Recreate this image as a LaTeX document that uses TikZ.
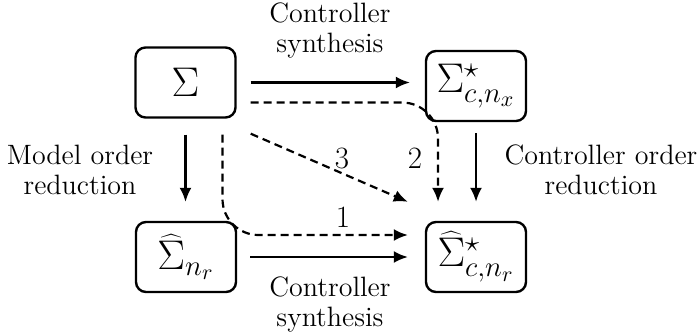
\documentclass[tikz,border=0pt]{standalone}
\usetikzlibrary{arrows.meta}
\begin{document}
\begin{tikzpicture}[x=0.5pt,y=-0.5pt,
  box/.style={draw, line width=1.2pt, rounded corners=5pt, minimum width=50pt, minimum height=35pt, inner sep=0pt, font=\fontsize{21}{24}\selectfont},
  arr/.style={line width=1.1pt, -{Latex[length=7pt,width=6pt]}},
  dsh/.style={arr, dash pattern=on 4pt off 2.5pt},
  lbl/.style={font=\fontsize{14}{15}\selectfont, align=center},
  num/.style={font=\fontsize{15.5}{17}\selectfont}]
\useasboundingbox (0,0) rectangle (700,332);
\node[box] (S) at (185.5,82.5) {$\Sigma$};
\node[box] (Sc) at (476,86) {$\Sigma^\star_{c,n_x}$};
\node[box] (Sr) at (186,257) {$\widehat{\Sigma}_{n_r}$};
\node[box] (Scr) at (476,257) {$\widehat{\Sigma}^\star_{c,n_r}$};
% solid arrows
\draw[arr, shorten <=7pt, shorten >=7.5pt] (S.east) -- (S.east -| Sc.west);
\draw[arr, shorten <=6.5pt, shorten >=8.5pt] (Sr.east) -- (Scr.west);
\draw[arr, shorten <=8pt, shorten >=9.5pt] (S.south) -- (S.south |- Sr.north);
\draw[arr, shorten <=5.5pt, shorten >=9.5pt] (Sc.south) -- (Scr.north);
% dashed arrows
\coordinate (d2s) at ([shift={(7pt,-10pt)}]S.east);
\coordinate (d2e) at ([shift={(-19pt,9.5pt)}]Scr.north);
\draw[dsh, rounded corners=18pt] (d2s) -| (d2e);
\coordinate (d1s) at ([shift={(18.5pt,-8pt)}]S.south);
\coordinate (d1e) at ([shift={(-8.5pt,11pt)}]Scr.west);
\draw[dsh, rounded corners=18pt] (d1s) |- (d1e);
\coordinate (d3s) at ([shift={(7pt,-7.5pt)}]S.south east);
\coordinate (d3e) at ([shift={(-8.5pt,9.5pt)}]Scr.north west);
\draw[dsh] (d3s) -- (d3e);
% labels
\node[num] (n3) at (342,158) {3};
\node[num] (n2) at (415,158) {2};
\node[num] (n1) at (343,217) {1};
\node[lbl] (ct) at (330,30) {Controller\\synthesis};
\node[lbl] (cb) at (330,304) {Controller\\synthesis};
\node[lbl] (mo) at (80,170) {Model order\\reduction};
\node[lbl] (co) at (601,170) {Controller order\\reduction};
\end{tikzpicture}
\end{document}
